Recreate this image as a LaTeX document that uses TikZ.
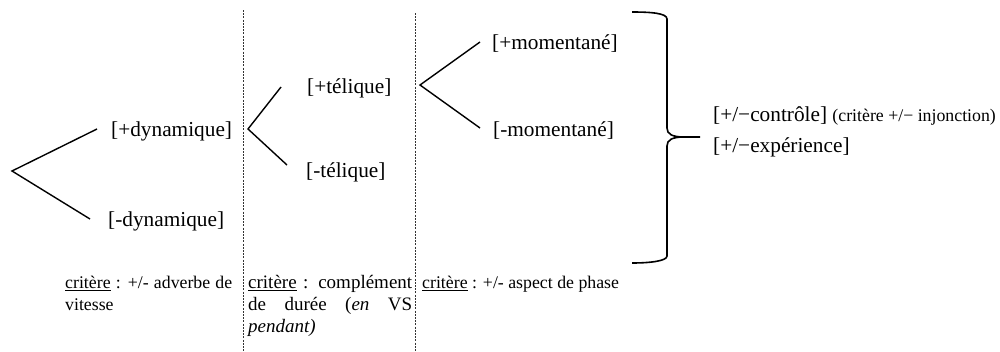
\documentclass[tikz,border=0pt]{standalone}
\usepackage{fontspec}
\setmainfont{Liberation Serif}
\begin{document}
\begin{tikzpicture}[x=1pt,y=-1pt,
  big/.style={inner sep=0pt, font=\fontsize{21.3}{25}\selectfont},
  small/.style={inner sep=0pt, font=\fontsize{17.8}{21.5}\selectfont},
  smalltwo/.style={inner sep=0pt, font=\fontsize{19}{22}\selectfont},
  arm/.style={line width=1.4pt, black},
  sep/.style={line width=0.7pt, black!80, dash pattern=on 2pt off 1.2pt},
  brace/.style={line width=1.6pt, black}]
\useasboundingbox (0,0) rectangle (1000,351);

% separators
\coordinate (s1t) at (243,10); \coordinate (s1b) at (243,351);
\coordinate (s2t) at (415,13); \coordinate (s2b) at (415,351);
\draw[sep] (s1t) -- (s1b);
\draw[sep] (s2t) -- (s2b);

% tree 1
\node[big, anchor=west] (pdyn) at (111,131) {[+dynamique]};
\node[big, anchor=west] (mdyn) at (108,221) {[-dynamique]};
\coordinate (v1) at (12,171);
\coordinate (v1a) at (97,129);
\coordinate (v1b) at (90,219);
\draw[arm] (v1a) -- (v1) -- (v1b);

% tree 2
\node[big, anchor=west] (ptel) at (307,88) {[+télique]};
\node[big, anchor=west] (mtel) at (306,172) {[-télique]};
\coordinate (v2) at (248,129);
\coordinate (v2a) at (281,87);
\coordinate (v2b) at (287,165);
\draw[arm] (v2a) -- (v2) -- (v2b);

% tree 3
\node[big, anchor=west] (pmom) at (492,44) {[+momentané]};
\node[big, anchor=west] (mmom) at (493,131) {[-momentané]};
\coordinate (v3) at (420,85);
\coordinate (v3a) at (480,42);
\coordinate (v3b) at (480,128);
\draw[arm] (v3a) -- (v3) -- (v3b);

% brace
\draw[brace] (632,12) .. controls (650,12) and (667,13) .. (667,19)
  -- (667,128) .. controls (667,134) and (672,137) .. (684,137) -- (700,137);
\draw[brace] (684,137) .. controls (672,137) and (667,140) .. (667,146)
  -- (667,256) .. controls (667,261) and (650,263) .. (632,263);

% results
\node[big, anchor=base west] (ctrl) at (713,121)
  {[+/−contrôle] {\fontsize{17.8}{21.5}\selectfont(critère +/− injonction)}};
\node[big, anchor=base west] (expe) at (713,152) {[+/−expérience]};

% criteria
\node[small, anchor=base west] (c1) at (65,288.7)
  {\parbox[t]{167pt}{\underline{critère} : \mbox{+/-} adverbe de\linebreak vitesse}};
\node[smalltwo, anchor=base west] (c2) at (248,288.7)
  {\parbox[t]{164pt}{\underline{critère} : complément\linebreak de durée (\textit{en} VS\linebreak \textit{pendant)}}};
\node[small, anchor=base west] (c3) at (422,288.7)
  {\underline{critère} : \mbox{+/-} aspect de phase};
\end{tikzpicture}
\end{document}
